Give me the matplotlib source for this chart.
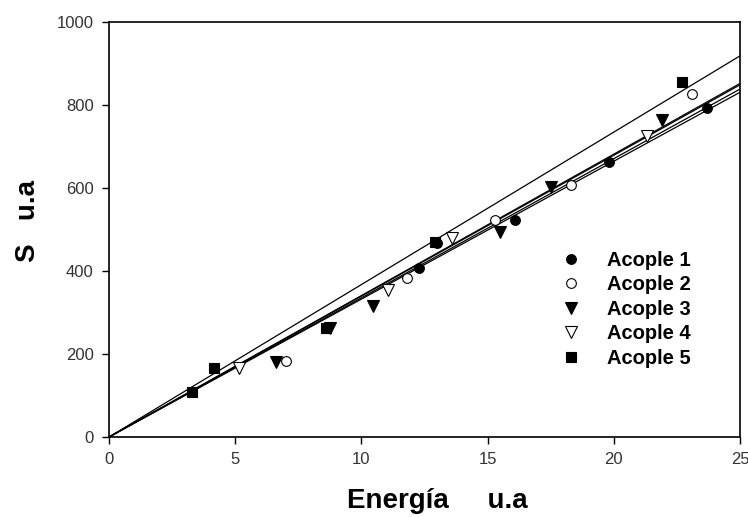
import numpy as np
import matplotlib.pyplot as plt

# --------------- Data ---------------
labels = ['Acople 1', 'Acople 2', 'Acople 3', 'Acople 4', 'Acople 5']

x1 = [12.3, 13.0, 16.1, 19.8, 23.7]
y1 = [407, 467, 523, 663, 793]

x2 = [7.0, 11.8, 15.3, 18.3, 23.1]
y2 = [183, 383, 523, 607, 826]

x3 = [6.6, 8.75, 10.45, 15.5, 17.5, 21.9]
y3 = [180, 263, 316, 494, 602, 764]

x4 = [5.15, 11.05, 13.6, 21.3]
y4 = [166, 354, 479, 725]

x5 = [3.3, 4.15, 8.6, 12.9, 22.7]
y5 = [108, 166, 262, 470, 856]

xticks = [0, 5, 10, 15, 20, 25]
yticks = [0, 200, 400, 600, 800, 1000]

# ----------------------------------------------
plt.rcParams['font.family'] = ['Liberation Sans', 'DejaVu Sans']

fig = plt.figure(figsize=(7.48, 5.17), dpi=100)
ax = fig.add_axes([0.1457, 0.1547, 0.8436, 0.8027])

xs = [x1, x2, x3, x4, x5]
ys = [y1, y2, y3, y4, y5]
markers = ['o', 'o', 'v', 'v', 's']
faces = ['black', 'white', 'black', 'white', 'black']
sizes = [7, 7, 8, 8, 7]

# regression lines through origin
x_line = np.array([0, 25])
for i in range(5):
    xx = np.array(xs[i])
    yy = np.array(ys[i])
    slope = np.sum(xx * yy) / np.sum(xx ** 2)
    plt.plot(x_line, slope * x_line, color='black', lw=0.9, zorder=2)

handles = []
for i in range(5):
    h, = plt.plot(xs[i], ys[i], linestyle='none', marker=markers[i],
                  markersize=sizes[i], markerfacecolor=faces[i],
                  markeredgecolor='black', markeredgewidth=0.8,
                  label=labels[i], zorder=3)
    handles.append(h)

plt.xlim(0, 25)
plt.ylim(0, 1000)
plt.xticks(xticks)
plt.yticks(yticks)
ax.tick_params(direction='out', length=5, width=1, labelsize=12, pad=6,
               labelcolor='#333333', top=False, right=False)
for s in ax.spines.values():
    s.set_linewidth(1.2)

plt.xlabel('Energía     u.a', fontsize=20, fontweight='bold')
plt.ylabel('S   u.a', fontsize=20, fontweight='bold')
ax.xaxis.set_label_coords(0.52, -0.122)
ax.yaxis.set_label_coords(-0.108, 0.52)

leg = plt.legend(handles=handles, loc='upper left',
                 bbox_to_anchor=(0.685, 0.493), frameon=False,
                 prop={'size': 14.5, 'weight': 'bold'},
                 handlelength=1.2, handletextpad=1.15, labelspacing=0.28)

plt.savefig('out.png', dpi=100)
